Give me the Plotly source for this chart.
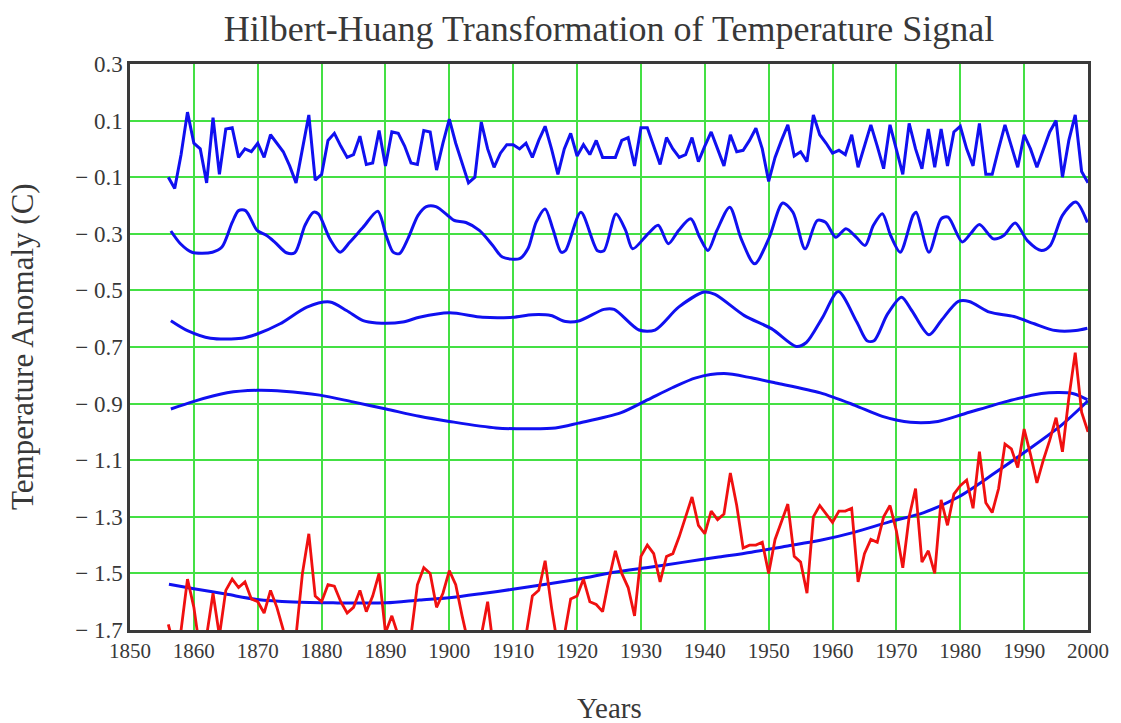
import plotly.graph_objects as go

# ---------------- data ----------------
years = list(range(1856, 2001))

imf1 = [-0.10, -0.14, -0.02, 0.13, 0.02, 0.00, -0.12, 0.11, -0.09, 0.07,
        0.075, -0.03, 0.00, -0.01, 0.02, -0.03, 0.05, 0.02, -0.01, -0.06,
        -0.12, 0.00, 0.12, -0.11, -0.09, 0.03, 0.055, 0.01, -0.03, -0.02,
        0.045, -0.055, -0.05, 0.065, -0.06, 0.06, 0.055, 0.01, -0.05, -0.055,
        0.065, 0.06, -0.075, 0.02, 0.105, 0.02, -0.05, -0.12, -0.10, 0.095,
        0.00, -0.065, -0.015, 0.015, 0.015, 0.00, 0.02, -0.03, 0.03, 0.08,
        0.00, -0.09, 0.00, 0.055, -0.025, 0.015, -0.02, 0.03, -0.03, -0.03,
        -0.03, 0.03, 0.04, -0.06, 0.075, 0.075, 0.01, -0.055, 0.04, 0.00,
        -0.03, -0.02, 0.04, -0.045, 0.01, 0.06, 0.00, -0.06, 0.05, -0.01,
        -0.005, 0.03, 0.073, 0.00, -0.115, -0.03, 0.03, 0.085, -0.025, -0.01,
        -0.045, 0.12, 0.05, 0.02, -0.015, -0.005, -0.02, 0.05, -0.065, 0.01,
        0.085, 0.01, -0.07, 0.085, 0.00, -0.09, 0.09, 0.00, -0.07, 0.07,
        -0.065, 0.07, -0.06, 0.06, 0.08, 0.00, -0.06, 0.09, -0.09, -0.09,
        0.00, 0.085, 0.01, -0.065, 0.05, 0.00, -0.065, 0.00, 0.06, 0.10,
        -0.10, 0.03, 0.12, -0.08, -0.12]

signal = [-1.68, -1.77, -1.70, -1.52, -1.62, -1.78, -1.72, -1.57, -1.72, -1.56,
          -1.52, -1.55, -1.53, -1.59, -1.60, -1.64, -1.56, -1.62, -1.70, -1.76,
          -1.72, -1.50, -1.36, -1.58, -1.60, -1.54, -1.545, -1.60, -1.64, -1.62,
          -1.56, -1.635, -1.58, -1.50, -1.71, -1.65, -1.72, -1.78, -1.72, -1.54,
          -1.48, -1.50, -1.62, -1.57, -1.49, -1.54, -1.65, -1.75, -1.78, -1.72,
          -1.60, -1.78, -1.80, -1.80, -1.78, -1.78, -1.72, -1.58, -1.56, -1.455,
          -1.62, -1.76, -1.72, -1.59, -1.58, -1.52, -1.60, -1.61, -1.635, -1.52,
          -1.42, -1.50, -1.55, -1.65, -1.44, -1.40, -1.43, -1.53, -1.44, -1.43,
          -1.37, -1.30, -1.23, -1.33, -1.36, -1.28, -1.31, -1.29, -1.145, -1.26,
          -1.41, -1.40, -1.40, -1.39, -1.50, -1.38, -1.32, -1.255, -1.44, -1.46,
          -1.57, -1.30, -1.26, -1.29, -1.32, -1.28, -1.28, -1.27, -1.53, -1.43,
          -1.38, -1.39, -1.30, -1.26, -1.35, -1.48, -1.30, -1.20, -1.46, -1.42,
          -1.50, -1.24, -1.33, -1.22, -1.19, -1.17, -1.27, -1.07, -1.25, -1.285,
          -1.20, -1.043, -1.06, -1.126, -0.99, -1.08, -1.18, -1.10, -1.03, -0.95,
          -1.07, -0.88, -0.72, -0.93, -1.00]

imf2_x = [1856.4, 1857.9, 1859.7, 1862.9, 1864.4, 1866.0, 1867.0, 1868.1, 1869.9, 1871.4,
          1872.7, 1874.5, 1875.8, 1877.4, 1878.7, 1879.5, 1881.3, 1882.9, 1884.4, 1886.5,
          1888.8, 1890.1, 1891.2, 1892.2, 1893.5, 1895.1, 1896.4, 1897.9, 1900.0, 1900.8,
          1902.6, 1904.7, 1906.8, 1908.3, 1911.0, 1912.3, 1913.6, 1915.0, 1916.2, 1917.5,
          1918.2, 1920.6, 1923.2, 1924.2, 1926.1, 1927.6, 1928.7, 1931.1, 1932.7, 1934.3,
          1935.9, 1937.8, 1939.2, 1940.5, 1941.9, 1943.9, 1945.7, 1947.8, 1950.0, 1952.2,
          1953.8, 1955.7, 1957.6, 1958.9, 1960.5, 1962.1, 1963.7, 1965.1, 1966.4, 1967.8,
          1969.1, 1970.6, 1972.6, 1973.1, 1975.1, 1977.0, 1978.1, 1980.3, 1981.6, 1983.0,
          1985.2, 1986.8, 1988.6, 1990.5, 1992.7, 1994.1, 1996.0, 1998.1, 1999.9]
imf2_y = [-0.29, -0.335, -0.365, -0.365, -0.347, -0.26, -0.218, -0.218, -0.288, -0.306,
          -0.33, -0.367, -0.367, -0.27, -0.224, -0.23, -0.318, -0.365, -0.33, -0.277,
          -0.22, -0.306, -0.365, -0.37, -0.318, -0.235, -0.204, -0.204, -0.24, -0.253,
          -0.26, -0.288, -0.341, -0.382, -0.388, -0.353, -0.259, -0.212, -0.282, -0.365,
          -0.359, -0.224, -0.36, -0.36, -0.23, -0.288, -0.353, -0.30, -0.27, -0.335,
          -0.288, -0.247, -0.312, -0.359, -0.288, -0.206, -0.318, -0.406, -0.318, -0.191,
          -0.224, -0.353, -0.253, -0.259, -0.312, -0.282, -0.312, -0.341, -0.27, -0.229,
          -0.306, -0.365, -0.235, -0.224, -0.365, -0.247, -0.241, -0.329, -0.30, -0.267,
          -0.318, -0.306, -0.262, -0.324, -0.359, -0.341, -0.235, -0.188, -0.26]

imf3_x = [1856.4, 1859.0, 1862.6, 1867.5, 1869.9, 1873.5, 1877.7, 1881.3, 1883.9, 1886.5,
          1888.6, 1892.7, 1895.3, 1900.0, 1905.2, 1909.9, 1913.0, 1915.9, 1918.2, 1920.4,
          1924.2, 1925.8, 1929.7, 1932.2, 1935.9, 1939.9, 1941.6, 1946.2, 1950.5, 1954.3,
          1955.9, 1958.4, 1960.9, 1963.8, 1965.4, 1966.5, 1968.6, 1970.8, 1972.4, 1975.1,
          1977.0, 1979.7, 1981.4, 1984.6, 1988.4, 1991.6, 1994.9, 1998.1, 1999.9]
imf3_y = [-0.607, -0.642, -0.669, -0.669, -0.654, -0.618, -0.559, -0.541, -0.571, -0.607,
          -0.615, -0.612, -0.595, -0.579, -0.595, -0.595, -0.586, -0.589, -0.61, -0.607,
          -0.567, -0.567, -0.64, -0.64, -0.559, -0.506, -0.514, -0.589, -0.636, -0.698,
          -0.684, -0.597, -0.504, -0.612, -0.678, -0.678, -0.584, -0.524, -0.571, -0.657,
          -0.607, -0.539, -0.539, -0.577, -0.592, -0.618, -0.642, -0.642, -0.634]

imf4_x = [1856.4, 1860.0, 1865.2, 1869.9, 1874.0, 1879.7, 1884.9, 1890.1, 1895.3, 1900.0,
          1907.3, 1913.0, 1916.6, 1920.2, 1926.8, 1931.1, 1934.9, 1938.6, 1943.0, 1947.3,
          1951.1, 1958.1, 1963.5, 1967.8, 1972.2, 1976.5, 1980.8, 1987.3, 1992.7, 1997.6,
          1999.9]
imf4_y = [-0.919, -0.892, -0.862, -0.853, -0.856, -0.87, -0.894, -0.919, -0.945, -0.963,
          -0.986, -0.989, -0.986, -0.969, -0.933, -0.886, -0.844, -0.809, -0.794, -0.809,
          -0.827, -0.862, -0.906, -0.945, -0.966, -0.963, -0.935, -0.892, -0.864, -0.864,
          -0.886]

trend_x = [1856.1, 1860.0, 1865.2, 1869.9, 1875.6, 1881.8, 1890.1, 1895.3, 1900.0, 1905.2,
           1909.9, 1915.1, 1920.3, 1925.8, 1931.1, 1936.5, 1941.9, 1947.3, 1952.7, 1958.1,
           1963.5, 1968.9, 1974.3, 1979.7, 1985.1, 1990.5, 1995.9, 2000.0]
trend_y = [-1.538, -1.554, -1.574, -1.592, -1.601, -1.604, -1.604, -1.594, -1.586, -1.571,
           -1.556, -1.538, -1.52, -1.496, -1.479, -1.461, -1.443, -1.425, -1.404, -1.383,
           -1.354, -1.318, -1.285, -1.23, -1.15, -1.065, -0.975, -0.89]

x_ticks = list(range(1850, 2001, 10))
y_ticks = [0.3, 0.1, -0.1, -0.3, -0.5, -0.7, -0.9, -1.1, -1.3, -1.5, -1.7]
y_tick_text = ["0.3", "0.1", "\u2212 0.1", "\u2212 0.3", "\u2212 0.5", "\u2212 0.7",
               "\u2212 0.9", "\u2212 1.1", "\u2212 1.3", "\u2212 1.5", "\u2212 1.7"]

# ---------------- figure ----------------
BLUE = "#1010f0"
RED = "#f01010"
GRID = "#44e044"
FONT = "Liberation Serif"
TXT = "#383838"

W, H = 1121, 723
L, R, T, B = 130, 33, 64, 93

fig = go.Figure()
fig.add_trace(go.Scatter(x=years, y=imf1, mode="lines",
                         line=dict(color=BLUE, width=3), hoverinfo="skip"))
for xs, ys in [(imf2_x, imf2_y), (imf3_x, imf3_y), (imf4_x, imf4_y), (trend_x, trend_y)]:
    fig.add_trace(go.Scatter(x=xs, y=ys, mode="lines",
                             line=dict(color=BLUE, width=3, shape="spline", smoothing=0.8),
                             hoverinfo="skip"))
fig.add_trace(go.Scatter(x=years, y=signal, mode="lines",
                         line=dict(color=RED, width=2.8), hoverinfo="skip"))

fig.update_layout(
    width=W, height=H, autosize=False,
    margin=dict(l=L, r=R, t=T, b=B),
    paper_bgcolor="white", plot_bgcolor="white",
    showlegend=False,
    font=dict(family=FONT, color=TXT),
    title=dict(text="Hilbert-Huang Transformation of Temperature Signal",
               x=0.5, xref="paper", y=1 - 28 / H, yref="container",
               xanchor="center", yanchor="middle",
               font=dict(family=FONT, size=36, color=TXT)),
)
fig.update_xaxes(range=[1850, 2000], tickvals=x_ticks, ticks="", showgrid=True,
                 gridcolor=GRID, gridwidth=2, zeroline=False,
                 showline=True, linecolor="#3a3a3a", linewidth=2.5, mirror=True,
                 tickfont=dict(family=FONT, size=21, color=TXT))
fig.update_yaxes(range=[-1.7, 0.3], tickvals=y_ticks, ticktext=y_tick_text, ticks="",
                 showgrid=True, gridcolor=GRID, gridwidth=2, zeroline=False,
                 showline=True, linecolor="#3a3a3a", linewidth=2.5, mirror=True,
                 tickfont=dict(family=FONT, size=23, color=TXT))

plot_w = W - L - R
plot_h = H - T - B
fig.add_annotation(text="Years", xref="paper", yref="paper", x=0.5,
                   y=-(708 - (H - B)) / plot_h,
                   xanchor="center", yanchor="middle", showarrow=False,
                   font=dict(family=FONT, size=29, color=TXT))
fig.add_annotation(text="Temperature Anomaly (C)", xref="paper", yref="paper",
                   x=-(L - 22) / plot_w, y=0.5, textangle=-90,
                   xanchor="center", yanchor="middle", showarrow=False,
                   font=dict(family=FONT, size=31, color=TXT))

# remove the browser's default 8px body margin so the figure fills the window exactly
fig.write_html("out.html", config={"displayModeBar": False},
               post_script="document.body.style.margin='0px';")
